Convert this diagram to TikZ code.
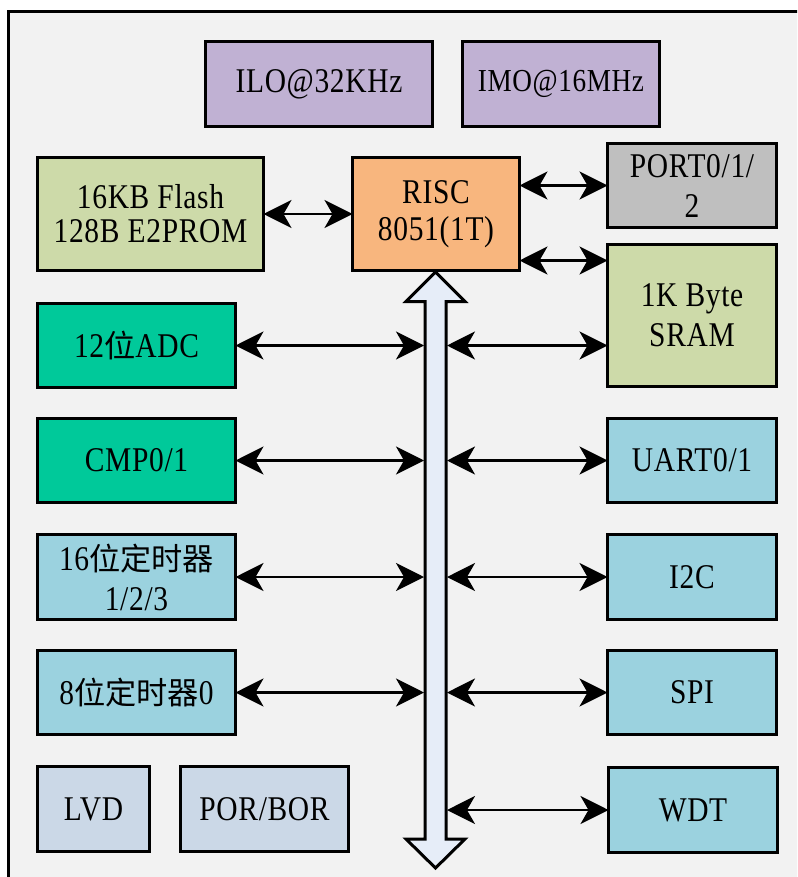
\documentclass[tikz,border=0pt]{standalone}
\usepackage{fontspec}
\setmainfont[FakeStretch=0.85,LetterSpace=2]{Liberation Serif}
\newfontfamily\cjk[Scale=0.9]{Noto Sans CJK SC}
\usetikzlibrary{arrows.meta}
\definecolor{bgc}{HTML}{F2F2F2}
\definecolor{lav}{HTML}{C0B1D3}
\definecolor{lgreen}{HTML}{CDDAA9}
\definecolor{orng}{HTML}{F8B67E}
\definecolor{gry}{HTML}{BFBFBF}
\definecolor{teal}{HTML}{00C99A}
\definecolor{lblue}{HTML}{9BD2DF}
\definecolor{pblue}{HTML}{CBD8E7}
\definecolor{busc}{HTML}{E6EDF8}
\newcommand\mybox[7]{\node[box, fill=#6, minimum width={(#4-#2-3)*0.75pt}, minimum height={(#5-#3-3)*0.75pt}] (#1) at ({(#2+#4)/2},{(#3+#5)/2}) {#7};}
\begin{document}
\begin{tikzpicture}[x=0.75pt,y=-0.75pt,
  box/.style={draw, line width=2.25pt, align=center, inner sep=0pt, outer sep=0pt, font=\fontsize{26}{30}\selectfont},
  link/.style={line width=1.6pt, {Stealth[length=21pt,width=21pt,inset=6pt]}-{Stealth[length=21pt,width=21pt,inset=6pt]}}]
\useasboundingbox (0,0) rectangle (797,877);
\clip (0,0) rectangle (797,877);
\fill[white] (0,0) rectangle (797,877);
\draw[line width=2.25pt, fill=bgc] (8.5,12) rectangle (820,900);

\mybox{ilo}{204}{40}{434}{128}{lav}{ILO@32KHz}
\mybox{imo}{461}{40}{661}{128}{lav}{\fontsize{24}{30}\selectfont IMO@16MHz}
\mybox{flash}{36}{156}{265}{272}{lgreen}{16KB Flash\\[-4.5pt]128B E2PROM}
\mybox{risc}{351}{156}{521}{272}{orng}{RISC\\[-2pt]8051(1T)}
\mybox{port}{606}{142}{778}{229}{gry}{PORT0/1/\\2}
\mybox{sram}{606}{243}{778}{388}{lgreen}{1K Byte\\SRAM}
\mybox{adc}{36}{302}{237}{389}{teal}{12{\cjk 位}ADC}
\mybox{cmp}{36}{417}{237}{504}{teal}{CMP0/1}
\mybox{uart}{606}{417}{778}{504}{lblue}{UART0/1}
\mybox{tim}{36}{533}{237}{621}{lblue}{16{\cjk 位定时器}\\1/2/3}
\mybox{iic}{606}{533}{778}{621}{lblue}{I2C}
\mybox{timz}{36}{649}{237}{736}{lblue}{8{\cjk 位定时器}0}
\mybox{spi}{606}{649}{778}{736}{lblue}{SPI}
\mybox{lvd}{36}{765}{151}{853}{pblue}{LVD}
\mybox{por}{179}{765}{350}{853}{pblue}{POR/BOR}
\mybox{wdt}{607}{766}{779}{854}{lblue}{WDT}

% bus
\draw[line width=2.25pt, fill=busc, line join=miter]
  (435.5,272) -- (465,301.5) -- (446,301.5) -- (446,839) -- (465,839) -- (435.5,868)
  -- (406,839) -- (425,839) -- (425,301.5) -- (406,301.5) -- cycle;
\coordinate (busL) at (424,0);
\coordinate (busR) at (447,0);

\draw[link] (flash.east) -- (risc.west);
\draw[link] (risc.east |- port.west) -- (port.west);
\coordinate (rs) at ([yshift=7.5pt]risc.south east);
\draw[link] (rs) -- (rs -| sram.west);

\foreach \l/\r in {adc/sram, cmp/uart, tim/iic, timz/spi}{
  \draw[link] (\l.east) -- (\l.east -| busL);
  \draw[link] (busR |- \l.east) -- (\l.east -| \r.west);
}
\draw[link] (busR |- wdt.west) -- (wdt.west);
\end{tikzpicture}
\end{document}
